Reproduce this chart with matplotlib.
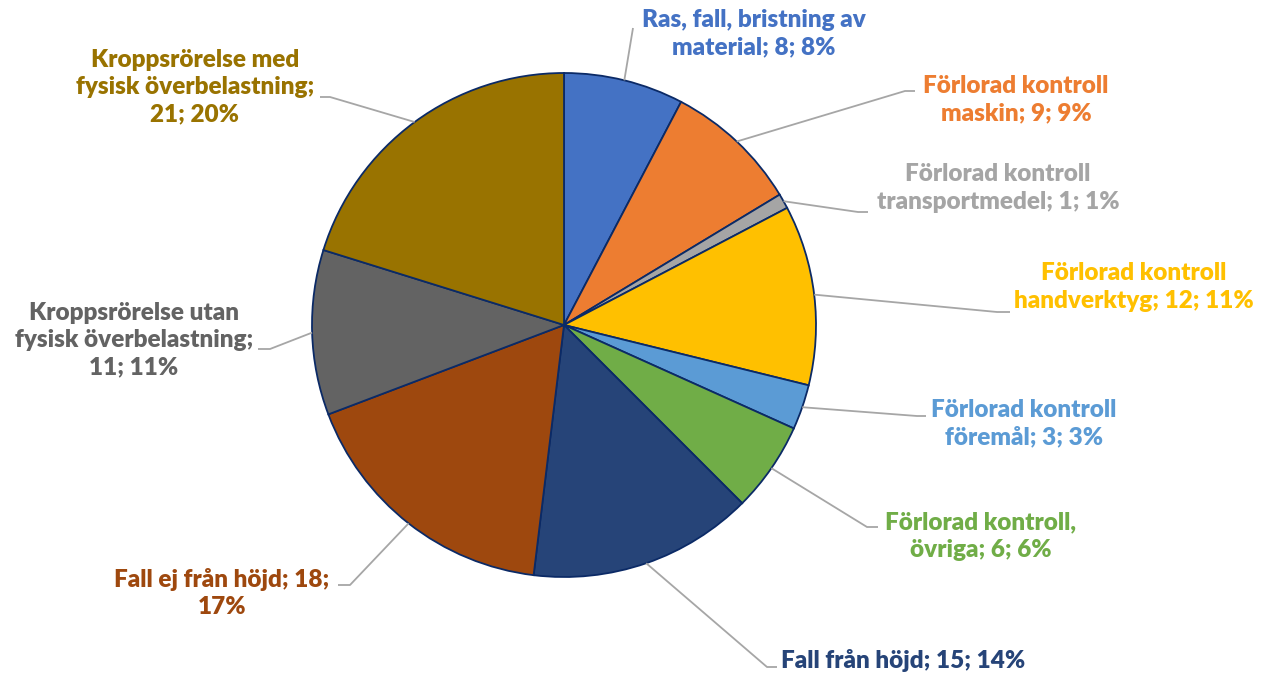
import numpy as np
import matplotlib.pyplot as plt

# Data
kategorier = ["Ras, fall, bristning av\nmaterial",
              "Förlorad kontroll\nmaskin",
              "Förlorad kontroll\ntransportmedel",
              "Förlorad kontroll\nhandverktyg",
              "Förlorad kontroll\nföremål",
              "Förlorad kontroll,\növriga",
              "Fall från höjd",
              "Fall ej från höjd",
              "Kroppsrörelse utan\nfysisk överbelastning",
              "Kroppsrörelse med\nfysisk överbelastning"]
antal = [8, 9, 1, 12, 3, 6, 15, 18, 11, 21]
procent = [8, 9, 1, 11, 3, 6, 14, 17, 11, 20]
etiketter = ["Ras, fall, bristning av\nmaterial; 8; 8%",
             "Förlorad kontroll\nmaskin; 9; 9%",
             "Förlorad kontroll\ntransportmedel; 1; 1%",
             "Förlorad kontroll\nhandverktyg; 12; 11%",
             "Förlorad kontroll\nföremål; 3; 3%",
             "Förlorad kontroll,\növriga; 6; 6%",
             "Fall från höjd; 15; 14%",
             "Fall ej från höjd; 18;\n17%",
             "Kroppsrörelse utan\nfysisk överbelastning;\n11; 11%",
             "Kroppsrörelse med\nfysisk överbelastning;\n21; 20%"]
farger = ["#4472C4", "#ED7D31", "#A5A5A5", "#FFC000", "#5B9BD5",
          "#70AD47", "#264478", "#9E480E", "#636363", "#997300"]

# Layout (pixel coords, y from top)
W, H = 1273, 676
centrum = (564, 325)
radie = 252
text_pos = [(754, 34), (1016, 100), (998, 188), (1134, 287), (1024, 424),
            (981, 536), (903, 660), (222, 593), (134, 340), (195, 87)]
# knäpunkt och slutpunkt för hjälplinjerna
linje_knä = [(633, 28), (905, 91), (858, 212), (997, 312), (917, 416),
             (867, 527), (767, 667), (350, 585), (270, 349), (330, 97)]
linje_slut = [(633, 28), (915, 91), (868, 212), (1010, 312), (926, 416),
              (878, 527), (777, 667), (338, 585), (258, 349), (320, 97)]

fig = plt.figure(figsize=(W / 100, H / 100), dpi=100)
ax = fig.add_axes([0, 0, 1, 1])

cx, cy = centrum[0], H - centrum[1]
wedges, _ = ax.pie(antal, colors=farger, startangle=90, counterclock=False,
                   center=(cx, cy), radius=radie, frame=True,
                   wedgeprops=dict(edgecolor="#0B2A66", linewidth=1.3))
ax.set_xlim(0, W)
ax.set_ylim(0, H)
ax.set_aspect("equal")
ax.axis("off")

for i, w in enumerate(wedges):
    mitt = np.deg2rad((w.theta1 + w.theta2) / 2)
    ex = cx + radie * np.cos(mitt)
    ey = cy + radie * np.sin(mitt)
    kx, ky = linje_knä[i]
    sx, sy = linje_slut[i]
    ax.plot([ex, kx, sx], [ey, H - ky, H - sy], color="#A6A6A6", lw=1.3,
            solid_capstyle="butt", zorder=1)
    tx, ty = text_pos[i]
    ax.text(tx, H - ty, etiketter[i], color=farger[i], fontsize=17.5,
            fontweight="heavy", family="Lato", ha="center", va="center",
            multialignment="center", linespacing=1.3)

fig.savefig("out.png", dpi=100)
